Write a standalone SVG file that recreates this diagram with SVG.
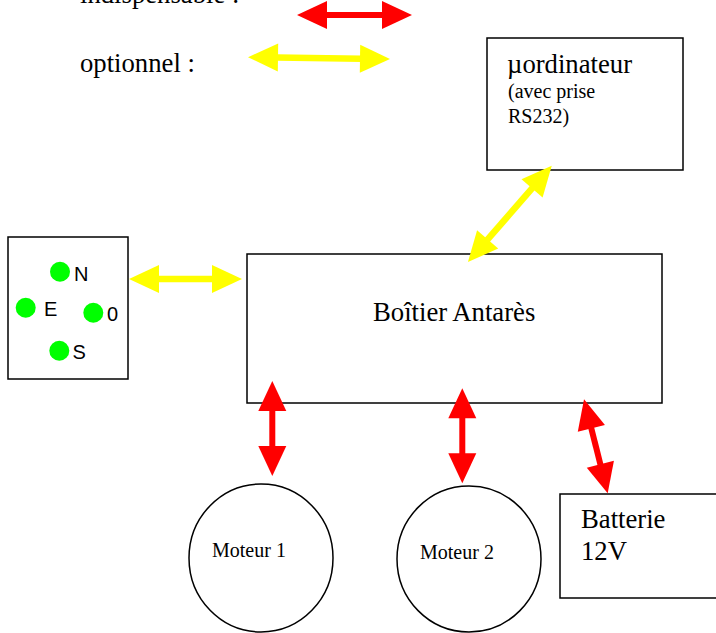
<svg xmlns="http://www.w3.org/2000/svg" width="716" height="633" viewBox="0 0 716 633">
  <style>
    .box { fill: #ffffff; stroke: #000000; stroke-width: 1.5; }
    .serif { font-family: "Liberation Serif", "Times New Roman", serif; fill: #000000; }
    .big { font-size: 26.7px; }
    .mid { font-size: 20px; }
    .sans { font-family: "Liberation Sans", Arial, sans-serif; font-size: 20px; fill: #000000; }
    .dot { fill: #00ff00; }
    .red { stroke: #ff0000; stroke-width: 6; fill: none; marker-start: url(#headR); marker-end: url(#headR); }
    .yel { stroke: #ffff00; stroke-width: 6.5; fill: none; marker-start: url(#headY); marker-end: url(#headY); }
  </style>
  <defs>
    <marker id="headR" markerUnits="userSpaceOnUse" viewBox="-2 -15 32 30" refX="0" refY="0" markerWidth="32" markerHeight="30" orient="auto-start-reverse" overflow="visible">
      <path d="M-1,-14 L29,0 L-1,14 Z" fill="#ff0000"/>
    </marker>
    <marker id="headY" markerUnits="userSpaceOnUse" viewBox="-2 -15 32 30" refX="0" refY="0" markerWidth="32" markerHeight="30" orient="auto-start-reverse" overflow="visible">
      <path d="M-1,-14 L29,0 L-1,14 Z" fill="#ffff00"/>
    </marker>
  </defs>

  <g id="legend">
    <text class="serif big" x="80" y="3">indispensable :</text>
    <text class="serif big" x="80" y="72">optionnel :</text>
  </g>

  <g id="ordinateur">
    <rect class="box" x="487" y="38" width="196" height="132"/>
    <text class="serif big" x="507" y="73">µordinateur</text>
    <text class="serif mid" x="508" y="98">(avec prise</text>
    <text class="serif mid" x="508" y="123">RS232)</text>
  </g>

  <g id="boussole">
    <rect class="box" x="8" y="237" width="120" height="142"/>
    <circle class="dot" cx="60" cy="271.7" r="10"/>
    <circle class="dot" cx="25.7" cy="307.7" r="10"/>
    <circle class="dot" cx="93.3" cy="312.7" r="10"/>
    <circle class="dot" cx="59.3" cy="350.7" r="10"/>
    <text class="sans" x="74" y="281">N</text>
    <text class="sans" x="44" y="316">E</text>
    <text class="sans" x="107" y="321">0</text>
    <text class="sans" x="72.5" y="359">S</text>
  </g>

  <g id="antares">
    <rect class="box" x="247" y="254" width="415" height="149"/>
    <text class="serif big" x="373" y="321">Boîtier Antarès</text>
  </g>

  <g id="moteur1">
    <ellipse class="box" cx="261" cy="558" rx="72" ry="74"/>
    <text class="serif mid" x="212" y="557">Moteur 1</text>
  </g>

  <g id="moteur2">
    <ellipse class="box" cx="469" cy="559" rx="72" ry="73"/>
    <text class="serif mid" x="420" y="559">Moteur 2</text>
  </g>

  <g id="batterie">
    <rect class="box" x="560" y="494" width="170" height="104"/>
    <text class="serif big" x="581" y="528">Batterie</text>
    <text class="serif big" x="581" y="560">12V</text>
  </g>

  <g id="connectors">
    <line class="red" x1="326" y1="15" x2="383" y2="15"/>
    <line class="yel" x1="277" y1="57.6" x2="361" y2="58.7"/>
    <line class="yel" x1="158" y1="279" x2="213" y2="279"/>
    <line class="yel" x1="487" y1="240.1" x2="532.7" y2="187.6"/>
    <line class="red" x1="272.3" y1="410" x2="272.3" y2="447"/>
    <line class="red" x1="462.3" y1="417.3" x2="462.3" y2="454.3"/>
    <line class="red" x1="591.1" y1="427.4" x2="600.6" y2="465.2"/>
  </g>
</svg>
